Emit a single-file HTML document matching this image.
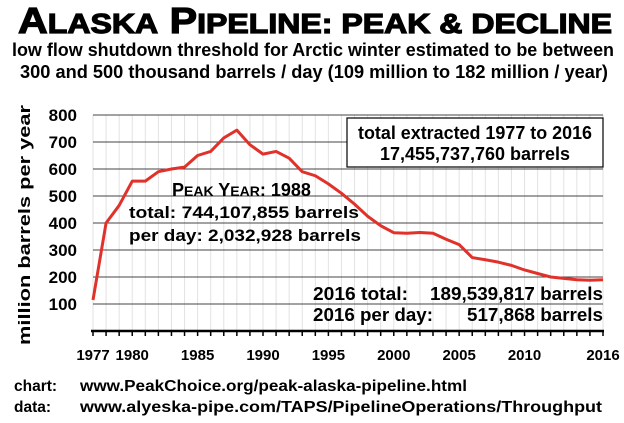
<!DOCTYPE html>
<html><head><meta charset="utf-8"><style>
body{margin:0;background:#fff;}
svg{display:block;font-family:"Liberation Sans",Arial,sans-serif;}
</style></head><body>
<svg id="chart" width="624" height="423" viewBox="0 0 624 423" xmlns="http://www.w3.org/2000/svg">
<rect width="624" height="423" fill="#fff"/>
<text x="18" y="33" font-size="36" font-weight="900" textLength="594" lengthAdjust="spacingAndGlyphs" stroke="#000" stroke-width="1.2">A<tspan font-size="28">LASKA</tspan> P<tspan font-size="28">IPELINE: PEAK &amp; DECLINE</tspan></text>
<text x="12" y="56" font-size="18" font-weight="bold" textLength="602" lengthAdjust="spacingAndGlyphs">low flow shutdown threshold for Arctic winter estimated to be between</text>
<text x="20" y="78" font-size="18" font-weight="bold" textLength="588" lengthAdjust="spacingAndGlyphs">300 and 500 thousand barrels / day (109 million to 182 million / year)</text>
<g id="grid"></g>
<g id="axes"></g>
<text transform="translate(30,225) rotate(-90)" text-anchor="middle" font-size="17" font-weight="bold" textLength="240" lengthAdjust="spacingAndGlyphs">million barrels per year</text>
<g id="series"></g>
<g font-weight="bold" font-size="17">
<text x="172" y="196" font-size="18">P<tspan font-size="14">EAK</tspan> Y<tspan font-size="14">EAR</tspan>: 1988</text>
<text x="129" y="218" textLength="230" lengthAdjust="spacingAndGlyphs">total:  744,107,855 barrels</text>
<text x="129" y="241" textLength="232" lengthAdjust="spacingAndGlyphs">per day: 2,032,928 barrels</text>
</g>
<g>
<rect x="347" y="118" width="256" height="49" fill="#fff" stroke="#000" stroke-width="1.2"/>
<text x="475" y="139" text-anchor="middle" font-size="18" font-weight="bold" textLength="234" lengthAdjust="spacingAndGlyphs">total extracted 1977 to 2016</text>
<text x="475" y="160" text-anchor="middle" font-size="18" font-weight="bold" textLength="190" lengthAdjust="spacingAndGlyphs">17,455,737,760 barrels</text>
</g>
<g font-size="18" font-weight="bold">
<text x="313" y="300" textLength="95" lengthAdjust="spacingAndGlyphs">2016 total:</text>
<text x="603" y="300" text-anchor="end" textLength="173" lengthAdjust="spacingAndGlyphs">189,539,817 barrels</text>
<text x="313" y="321" textLength="120" lengthAdjust="spacingAndGlyphs">2016 per day:</text>
<text x="603" y="321" text-anchor="end" textLength="136" lengthAdjust="spacingAndGlyphs">517,868 barrels</text>
</g>
<g font-size="15.5" font-weight="bold">
<text x="14" y="391">chart:</text><text x="80" y="391" textLength="387" lengthAdjust="spacingAndGlyphs">www.PeakChoice.org/peak-alaska-pipeline.html</text>
<text x="14" y="412">data:</text><text x="80" y="412" textLength="522" lengthAdjust="spacingAndGlyphs">www.alyeska-pipe.com/TAPS/PipelineOperations/Throughput</text>
</g>
</svg>
<script>
const years=[1977,1978,1979,1980,1981,1982,1983,1984,1985,1986,1987,1988,1989,1990,1991,1992,1993,1994,1995,1996,1997,1998,1999,2000,2001,2002,2003,2004,2005,2006,2007,2008,2009,2010,2011,2012,2013,2014,2015,2016];
const flow=[115,400,465,555,555,590,600,607,650,665,715,744,690,655,665,640,590,575,545,510,470,425,390,364,362,365,362,340,320,272,264,255,243,226,213,200,195,190,188,190];
const yTicks=[100,200,300,400,500,600,700,800];
const xLabels=[1977,1980,1985,1990,1995,2000,2005,2010,2016];
const NS="http://www.w3.org/2000/svg";
const x=y=>93+(y-1977)*(510/39);
const yv=v=>331-v*0.27;
function mk(tag,attrs,parent){const e=document.createElementNS(NS,tag);for(const k in attrs)e.setAttribute(k,attrs[k]);parent.appendChild(e);return e;}
const grid=document.getElementById('grid'),axes=document.getElementById('axes'),series=document.getElementById('series');
years.forEach(yr=>{const l=mk('line',{x1:x(yr),x2:x(yr),y1:yv(800),y2:331,stroke:'#e2e2e2','stroke-width':1},grid);


const t=mk('line',{x1:x(yr),x2:x(yr),y1:331,y2:336,stroke:'#000','stroke-width':1.5},axes);

});
yTicks.forEach(v=>{const l=mk('line',{x1:93,x2:603,y1:yv(v),y2:yv(v),stroke:'#444','stroke-width':1},grid);


const t=mk('text',{x:77,y:yv(v)+6,'text-anchor':'end','font-size':17,'font-weight':'bold'},axes);t.textContent=v;

});
const ax=mk('line',{x1:91,x2:604,y1:331,y2:331,stroke:'#000','stroke-width':2.5},axes);


xLabels.forEach(yr=>{const t=mk('text',{x:x(yr),y:360,'text-anchor':'middle','font-size':15,'font-weight':'bold'},axes);t.textContent=yr;

});
const p=mk('polyline',{points:years.map((yr,i)=>x(yr)+','+yv(flow[i])).join(' '),fill:'none',stroke:'#e0312a','stroke-width':3,'stroke-linejoin':'round'},series);


</script>
</body></html>
